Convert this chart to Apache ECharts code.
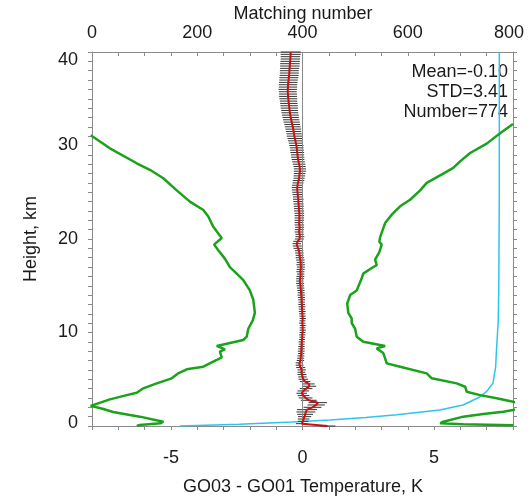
<!DOCTYPE html>
<html><head><meta charset="utf-8">
<script src="https://cdn.jsdelivr.net/npm/echarts@6/dist/echarts.min.js"></script>
<style>html,body{margin:0;padding:0;background:#fff}#c{width:531px;height:500px}</style>
</head><body><div id="c"></div>
<script>
// Height levels (km)
const heights = [0,0.25,0.5,0.75,1,1.25,1.5,1.75,2,2.25,2.5,2.75,3,3.25,3.5,3.75,4,4.25,4.5,4.75,
5,5.25,5.5,5.75,6,6.25,6.5,6.75,7,7.25,7.5,7.75,8,8.25,8.5,8.75,9,9.25,9.5,9.75,
10,10.25,10.5,10.75,11,11.25,11.5,11.75,12,12.25,12.5,12.75,13,13.25,13.5,13.75,14,14.25,14.5,14.75,
15,15.25,15.5,15.75,16,16.25,16.5,16.75,17,17.25,17.5,17.75,18,18.25,18.5,18.75,19,19.25,19.5,19.75,
20,20.25,20.5,20.75,21,21.25,21.5,21.75,22,22.25,22.5,22.75,23,23.25,23.5,23.75,24,24.25,24.5,24.75,
25,25.25,25.5,25.75,26,26.25,26.5,26.75,27,27.25,27.5,27.75,28,28.25,28.5,28.75,29,29.25,29.5,29.75,
30,30.25,30.5,30.75,31,31.25,31.5,31.75,32,32.25,32.5,32.75,33,33.25,33.5,33.75,34,34.25,34.5,34.75,
35,35.25,35.5,35.75,36,36.25,36.5,36.75,37,37.25,37.5,37.75,38,38.25,38.5,38.75,39,39.25,39.5,39.75,40];

// Mean temperature difference (K) at each level
const meanDiff = [0.95,-0.03,0.02,0.04,0.08,0.10,0.13,0.17,0.38,0.52,0.58,0.24,0.12,0.04,-0.03,0.03,0.14,0.26,0.24,0.10,
0.03,0.00,-0.02,-0.04,-0.03,-0.07,-0.11,-0.12,-0.08,-0.07,-0.06,-0.05,-0.05,-0.04,-0.04,-0.03,-0.03,-0.02,-0.01,-0.01,
0.00,0.01,0.00,0.01,-0.01,0.00,0.01,0.00,-0.01,-0.01,-0.02,-0.02,-0.03,-0.03,-0.03,-0.04,-0.05,-0.05,-0.06,-0.07,
-0.08,-0.09,-0.10,-0.09,-0.08,-0.07,-0.08,-0.07,-0.06,-0.07,-0.07,-0.08,-0.10,-0.11,-0.12,-0.13,-0.17,-0.20,-0.22,-0.18,
-0.12,-0.10,-0.11,-0.13,-0.12,-0.11,-0.12,-0.13,-0.12,-0.12,-0.12,-0.12,-0.13,-0.14,-0.14,-0.15,-0.16,-0.16,-0.17,-0.18,
-0.19,-0.20,-0.20,-0.19,-0.17,-0.15,-0.13,-0.12,-0.11,-0.10,-0.10,-0.11,-0.13,-0.15,-0.17,-0.18,-0.19,-0.20,-0.21,-0.22,
-0.23,-0.25,-0.27,-0.29,-0.31,-0.32,-0.34,-0.35,-0.37,-0.39,-0.41,-0.43,-0.45,-0.46,-0.48,-0.49,-0.50,-0.51,-0.52,-0.53,
-0.54,-0.55,-0.55,-0.56,-0.56,-0.55,-0.55,-0.54,-0.53,-0.52,-0.51,-0.50,-0.50,-0.49,-0.48,-0.48,-0.47,-0.46,-0.46,-0.45,-0.45];

// Error bar half-width (K) at each level
const errHalf = [0.30,0.22,0.20,0.22,0.25,0.30,0.36,0.38,0.34,0.33,0.35,0.30,0.26,0.22,0.20,0.22,0.24,0.26,0.22,0.20,
0.18,0.16,0.17,0.15,0.16,0.17,0.15,0.14,0.14,0.13,0.13,0.12,0.13,0.12,0.12,0.11,0.12,0.11,0.11,0.12,
0.11,0.12,0.11,0.11,0.12,0.11,0.12,0.12,0.12,0.13,0.12,0.13,0.13,0.12,0.13,0.13,0.14,0.13,0.14,0.14,
0.14,0.15,0.14,0.15,0.15,0.14,0.15,0.15,0.15,0.16,0.15,0.16,0.16,0.15,0.16,0.16,0.17,0.17,0.16,0.17,
0.17,0.17,0.16,0.17,0.17,0.17,0.18,0.17,0.18,0.18,0.18,0.18,0.19,0.18,0.19,0.19,0.19,0.20,0.19,0.20,
0.20,0.20,0.21,0.21,0.21,0.22,0.21,0.22,0.22,0.23,0.23,0.23,0.24,0.24,0.24,0.25,0.25,0.26,0.26,0.26,
0.27,0.27,0.28,0.28,0.29,0.29,0.29,0.30,0.30,0.30,0.31,0.31,0.31,0.32,0.32,0.32,0.33,0.33,0.33,0.33,
0.34,0.34,0.34,0.34,0.35,0.35,0.35,0.35,0.35,0.36,0.36,0.36,0.36,0.36,0.37,0.37,0.37,0.37,0.37,0.38,0.38];

// Green profile, left branch (K) and its heights (km)
const greenLeftT = [-8.05,-7.32,-6.3,-5.8,-5.29,-4.78,-4.28,-3.77,-3.58,-3.39,-3.2,-3.07,-3.36,-3.2,-2.95,-2.76,-2.5,-2.25,-2.0,-1.87,-1.81,-1.89,-2.06,-2.12,-2.25,-3.26,-2.95,-3.14,-3.07,-3.26,-3.77,-4.4,-4.72,-4.97,-5.54,-6.05,-6.3,-6.68,-7.32,-8.05,-7.6,-7.2,-6.56,-6.18,-5.29,-5.4,-6.18,-6.3];
const greenLeftH = [31.1,29.7,28.1,27.4,26.5,25.2,24.0,23.1,22.4,21.3,20.6,20.1,19.4,18.8,17.9,17.0,16.3,15.6,14.5,13.5,12.1,11.3,10.4,9.55,9.2,8.56,8.2,7.95,7.35,7.06,6.34,6.06,5.63,5.1,4.56,4.03,3.56,3.3,2.85,2.15,1.85,1.5,1.18,1.0,0.46,0.29,0.1,0];

// Green profile, right branch (K) and its heights (km)
const greenRightT = [8.0,7.51,7.0,6.37,5.99,5.73,5.35,4.72,4.47,4.09,3.71,3.39,3.14,2.95,2.92,3.01,2.92,2.76,2.82,2.63,2.31,2.25,2.06,1.81,1.70,1.74,1.87,1.87,2.0,2.06,2.31,3.14,2.82,3.07,3.14,3.2,3.71,4.72,4.91,5.86,6.18,6.24,6.75,7.38,8.0,8.6,8.0,7.63,6.87,6.11,5.35,5.23,6.11,8.0];
const greenRightH = [32.3,31.3,30.2,29.2,28.3,27.6,27.0,26.0,25.2,24.2,23.5,22.6,21.7,20.2,19.7,19.4,18.6,17.8,17.2,16.9,16.3,15.8,14.5,14.0,13.1,12.1,11.5,11.0,10.4,9.55,9.0,8.56,8.3,7.8,7.24,6.7,6.34,5.63,5.1,4.56,4.2,3.67,3.3,2.96,2.6,2.2,1.71,1.53,1.28,1.0,0.46,0.29,0.18,0.07];

// Matching number (top axis) and heights (km)
const matchCount = [167,280,380,452,520,579,661,705,737,750,762,767,769,772,773,774,774];
const matchH = [0,0.2,0.42,0.64,0.9,1.2,1.7,2.25,3.1,3.7,4.6,6.3,8.5,11.3,15,25,40];

const bottomLabels = [-5, 0, 5];
const topLabels = [0, 200, 400, 600, 800];
const leftLabels = [0, 10, 20, 30, 40];
const statLines = ['Mean=-0.10', 'STD=3.41', 'Number=774'];

const FONT = 'Liberation Sans, Arial, sans-serif';
const axisGray = '#8a8a8a';
const txt = '#1a1a1a';

const chart = echarts.init(document.getElementById('c'), null, {renderer: 'canvas'});

const baseAxis = {
  type: 'value',
  axisLine: {show: true, onZero: false, lineStyle: {color: axisGray, width: 1}},
  splitLine: {show: false},
  axisTick: {show: true, length: 4, lineStyle: {color: axisGray}},
  axisLabel: {fontSize: 18, fontFamily: FONT, color: txt}
};

// end labels are nudged inside the frame, as in the reference
const yRich = {
  n: {fontSize: 18, fontFamily: FONT, color: txt},
  hi: {fontSize: 18, fontFamily: FONT, color: txt, padding: [16, 0, 0, 0]},
  lo: {fontSize: 18, fontFamily: FONT, color: txt, padding: [0, 0, 6, 0]}
};
const topRich = {
  n: {fontSize: 18, fontFamily: FONT, color: txt},
  r: {fontSize: 18, fontFamily: FONT, color: txt, padding: [0, 8, 0, 0]}
};

const option = {
  animation: false,
  backgroundColor: '#fff',
  grid: {left: 92, right: 18, top: 52, bottom: 74},
  xAxis: [
    Object.assign({}, baseAxis, {min: -8, max: 8, interval: 1, position: 'bottom',
      axisTick: {show: true, inside: false, length: 4, lineStyle: {color: axisGray}},
      axisLabel: {fontSize: 18, fontFamily: FONT, color: txt, margin: 23,
        formatter: v => bottomLabels.indexOf(v) >= 0 ? String(v) : ''}}),
    Object.assign({}, baseAxis, {min: 0, max: 800, interval: 50, position: 'top',
      axisTick: {show: true, inside: true, length: 4, lineStyle: {color: axisGray}},
      axisLabel: {fontSize: 18, fontFamily: FONT, color: txt, margin: 10, rich: topRich,
        formatter: v => {
          if (topLabels.indexOf(v) < 0) return '';
          return v === topLabels[topLabels.length - 1] ? '{r|' + v + '}' : '{n|' + v + '}';
        }}})
  ],
  yAxis: [
    Object.assign({}, baseAxis, {min: 0, max: 40, interval: 1, position: 'left',
      axisTick: {show: true, inside: false, length: 4, lineStyle: {color: axisGray}},
      axisLabel: {fontSize: 18, fontFamily: FONT, color: txt, margin: 14, rich: yRich,
        formatter: v => {
          if (leftLabels.indexOf(v) < 0) return '';
          if (v === leftLabels[leftLabels.length - 1]) return '{hi|' + v + '}';
          if (v === leftLabels[0]) return '{lo|' + v + '}';
          return '{n|' + v + '}';
        }}}),
    Object.assign({}, baseAxis, {min: 0, max: 40, interval: 1, position: 'right',
      axisTick: {show: true, inside: false, length: 4, lineStyle: {color: axisGray}},
      axisLabel: {show: false}})
  ],
  series: [
    {
      type: 'line', xAxisIndex: 1, yAxisIndex: 0, symbol: 'none', z: 2,
      lineStyle: {color: '#2ec4ec', width: 1.5},
      data: matchCount.map((c, i) => [c, matchH[i]])
    },
    {
      type: 'line', xAxisIndex: 0, yAxisIndex: 0, symbol: 'none', z: 3,
      lineStyle: {color: '#1aa31a', width: 2.5},
      data: greenLeftT.map((t, i) => [t, greenLeftH[i]])
    },
    {
      type: 'line', xAxisIndex: 0, yAxisIndex: 0, symbol: 'none', z: 3,
      lineStyle: {color: '#1aa31a', width: 2.5},
      data: greenRightT.map((t, i) => [t, greenRightH[i]])
    },
    {
      type: 'custom', xAxisIndex: 0, yAxisIndex: 0, z: 4,
      encode: {x: [0, 1], y: 2},
      data: heights.map((h, i) => [meanDiff[i] - errHalf[i], meanDiff[i] + errHalf[i], h]),
      renderItem: (params, api) => {
        const a = api.coord([api.value(0), api.value(2)]);
        const b = api.coord([api.value(1), api.value(2)]);
        return {type: 'line', shape: {x1: a[0], y1: a[1], x2: b[0], y2: b[1]},
          style: {stroke: '#333', lineWidth: 1}};
      }
    },
    {
      type: 'line', xAxisIndex: 0, yAxisIndex: 0, symbol: 'none', z: 5,
      lineStyle: {color: '#cc1010', width: 2},
      data: heights.map((h, i) => [meanDiff[i], h]),
      markLine: {silent: true, symbol: 'none', label: {show: false},
        lineStyle: {color: '#8a8a8a', width: 1, type: 'solid'},
        data: [{xAxis: 0}]}
    }
  ],
  graphic: [
    {type: 'text', x: 303, y: 14, style: {text: 'Matching number', font: '18px ' + FONT, fill: txt, textAlign: 'center', textVerticalAlign: 'middle'}},
    {type: 'text', x: 303, y: 487, style: {text: 'GO03 - GO01 Temperature, K', font: '18px ' + FONT, fill: txt, textAlign: 'center', textVerticalAlign: 'middle'}},
    {type: 'text', x: 31, y: 239, rotation: Math.PI / 2, style: {text: 'Height, km', font: '18px ' + FONT, fill: txt, textAlign: 'center', textVerticalAlign: 'middle'}},
    {type: 'text', x: 508, y: 72, style: {text: statLines[0], font: '18px ' + FONT, fill: txt, textAlign: 'right', textVerticalAlign: 'middle'}},
    {type: 'text', x: 508, y: 92, style: {text: statLines[1], font: '18px ' + FONT, fill: txt, textAlign: 'right', textVerticalAlign: 'middle'}},
    {type: 'text', x: 508, y: 112, style: {text: statLines[2], font: '18px ' + FONT, fill: txt, textAlign: 'right', textVerticalAlign: 'middle'}}
  ]
};
chart.setOption(option);
</script></body></html>
